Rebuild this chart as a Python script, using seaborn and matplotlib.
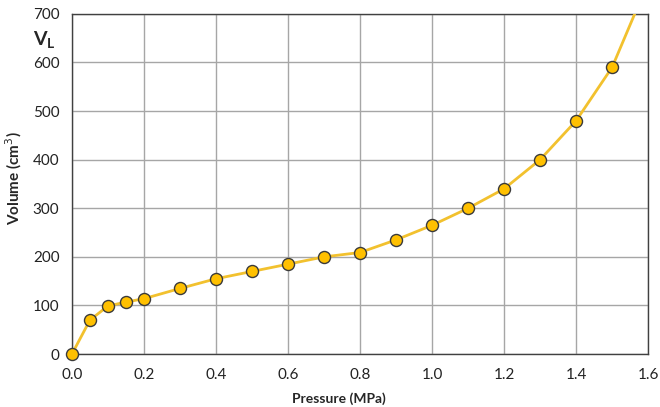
import numpy as np
import pandas as pd
import matplotlib
matplotlib.use("Agg")
import matplotlib.pyplot as plt
import seaborn as sns
from matplotlib.ticker import MultipleLocator

# measured points (pressure in MPa, volume in cm3)
pressure = [0.0, 0.05, 0.1, 0.15, 0.2, 0.3, 0.4, 0.5, 0.6, 0.7, 0.8, 0.9,
            1.0, 1.1, 1.2, 1.3, 1.4, 1.5]
volume = [0, 70, 99, 107, 114, 135, 155, 170, 185, 200, 209, 235,
          265, 300, 340, 400, 480, 590]
# trend line keeps going past the last point (clipped at the top)
trend_x = pressure + [1.6]
trend_y = volume + [765]

pts = pd.DataFrame({"pressure": pressure, "volume": volume})
trend = pd.DataFrame({"pressure": trend_x, "volume": trend_y})

sns.set_style("white")
plt.rcParams["font.family"] = ["Lato", "DejaVu Sans"]

fig = plt.figure(figsize=(6.6, 4.07), dpi=100)
ax = fig.add_axes([0.109, 0.130, 0.873, 0.836])

sns.lineplot(data=trend, x="pressure", y="volume", ax=ax, color="#F2C12E",
             linewidth=2, sort=False, zorder=3)
sns.scatterplot(data=pts, x="pressure", y="volume", ax=ax, color="#FFC000",
                edgecolor="#3a3a3a", linewidth=1, s=75, zorder=4, clip_on=False)

ax.set_xlim(0, 1.6)
ax.set_ylim(0, 700)
ax.xaxis.set_major_locator(MultipleLocator(0.2))
ax.xaxis.set_minor_locator(MultipleLocator(0.1))
ax.yaxis.set_major_locator(MultipleLocator(100))
ax.xaxis.set_major_formatter(matplotlib.ticker.FormatStrFormatter("%.1f"))
ax.grid(True, which="major", color="#a6a6a6", linewidth=1)
ax.set_axisbelow(True)

for s in ax.spines.values():
    s.set_color("#404040")
    s.set_linewidth(1)
    s.set_visible(True)

ax.tick_params(axis="both", which="major", direction="out", length=5,
               color="#404040", labelsize=11, labelcolor="#222222", pad=4)
ax.tick_params(axis="x", which="minor", direction="out", length=4,
               color="#404040")
ax.tick_params(axis="x", which="major", pad=5)

ax.set_xlabel("Pressure (MPa)", fontsize=10, fontweight="bold")
ax.xaxis.set_label_coords(0.4635, -0.113)
ax.set_ylabel("Volume (cm$^3$)", fontsize=11, fontweight="bold")
ax.yaxis.set_label_coords(-0.084, 0.518)
fig.text(0.05, 0.90, "V$_\\mathregular{L}$", fontsize=14, fontweight="bold",
         ha="left", va="center")

fig.savefig("out.png", dpi=100)
